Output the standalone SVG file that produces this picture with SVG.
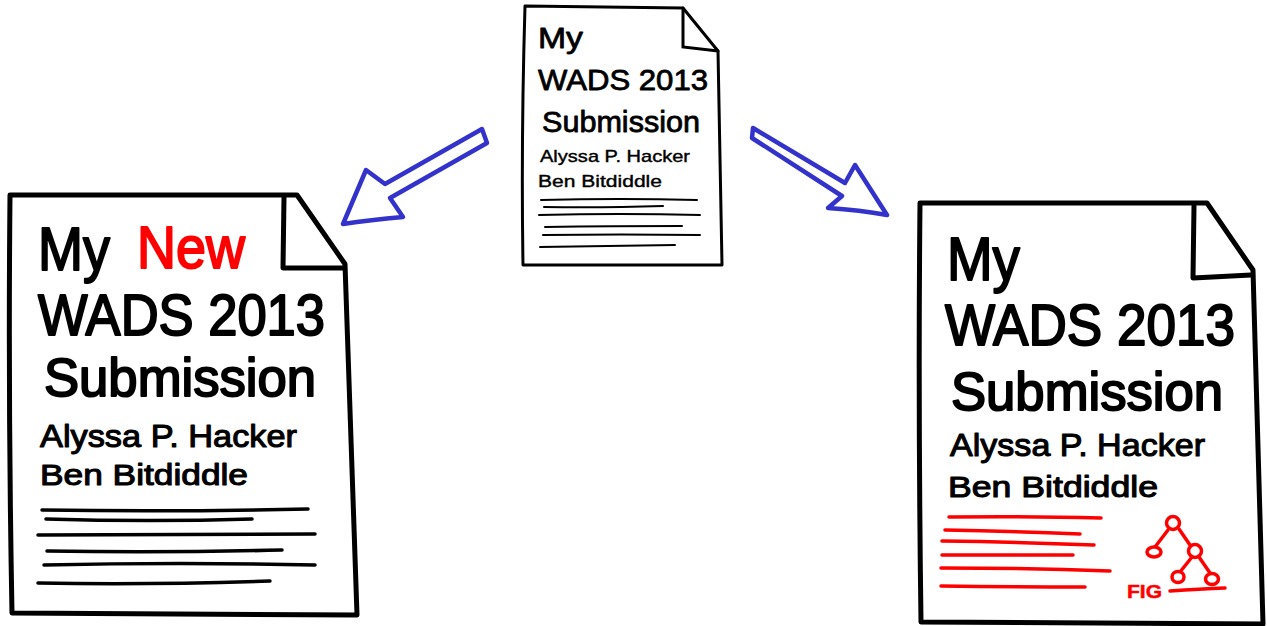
<svg xmlns="http://www.w3.org/2000/svg" width="1267" height="626" viewBox="0 0 1267 626">
<style>
.page{fill:#fff;stroke:#000;stroke-linejoin:round;stroke-linecap:round}
.big{stroke-width:5}
.small{stroke-width:3}
.ln{fill:none;stroke:#000;stroke-linecap:round}
.red{stroke:#f00}
.t{font-family:"Liberation Sans","DejaVu Sans",sans-serif;fill:#000;stroke:#000;stroke-linejoin:round}
.tb{stroke-width:2}
.tm{stroke-width:1.1}
.ts{stroke-width:0.8}
.tr{fill:#f00;stroke:#f00}
.arrow{fill:none;stroke:#3333cc;stroke-width:4.5;stroke-linejoin:round;stroke-linecap:round}
</style>
<rect width="1267" height="626" fill="#fff"/>

<g id="doc-original">
<path class="page small" d="M525,6 L683,8 L718,51 L722,265 L523,265 Q521,140 525,6 Z"/>
<path class="ln" stroke-width="3" d="M683,8 L683,47 L718,51"/>
<text class="t ts" x="538" y="48" font-size="30" textLength="45" lengthAdjust="spacingAndGlyphs">My</text>
<text class="t ts" x="538" y="90" font-size="29" textLength="170" lengthAdjust="spacingAndGlyphs">WADS 2013</text>
<text class="t ts" x="542" y="132" font-size="29" textLength="158" lengthAdjust="spacingAndGlyphs">Submission</text>
<text class="t" stroke-width="0.4" x="540" y="162" font-size="17" textLength="150" lengthAdjust="spacingAndGlyphs">Alyssa P. Hacker</text>
<text class="t" stroke-width="0.4" x="538" y="187" font-size="17" textLength="124" lengthAdjust="spacingAndGlyphs">Ben Bitdiddle</text>
<g class="ln" stroke-width="2">
<path d="M541,200 Q620,198 697,200"/>
<path d="M544,207 Q600,208 663,206"/>
<path d="M539,215 Q620,213 700,215"/>
<path d="M545,227 Q610,226 682,226"/>
<path d="M543,235 Q620,234 700,235"/>
<path d="M540,247 Q600,246 675,245"/>
</g>
</g>

<g id="doc-new">
<path class="page big" d="M10,195 L297,195 L345,264 L357,615 L12,613 Q8,400 10,195 Z"/>
<path class="ln" stroke-width="5" stroke-linejoin="round" d="M284,197 L283,268 L343,268"/>
<text class="t tb" x="38" y="270" font-size="62" textLength="72" lengthAdjust="spacingAndGlyphs">My</text>
<text class="t tb tr" x="137" y="268" font-size="60" textLength="108" lengthAdjust="spacingAndGlyphs">New</text>
<text class="t tb" x="38" y="335" font-size="58" textLength="287" lengthAdjust="spacingAndGlyphs">WADS 2013</text>
<text class="t tb" x="44" y="396" font-size="54" textLength="272" lengthAdjust="spacingAndGlyphs">Submission</text>
<text class="t tm" x="40" y="447" font-size="32" textLength="257" lengthAdjust="spacingAndGlyphs">Alyssa P. Hacker</text>
<text class="t tm" x="40" y="485" font-size="30" textLength="208" lengthAdjust="spacingAndGlyphs">Ben Bitdiddle</text>
<g class="ln" stroke-width="3.5">
<path d="M42,510 Q170,512 308,509"/>
<path d="M46,519 Q150,522 252,519"/>
<path d="M38,535 Q180,534 315,534"/>
<path d="M47,551 Q160,553 282,550"/>
<path d="M44,565 Q180,562 315,565"/>
<path d="M38,583 Q150,585 270,581"/>
</g>
</g>

<g id="doc-figure">
<path class="page big" d="M920,203 L1207,203 L1253,270 L1263,624 L921,622 Q918,400 920,203 Z"/>
<path class="ln" stroke-width="5" stroke-linejoin="round" d="M1194,206 L1193,278 L1251,275"/>
<text class="t tb" x="947" y="280" font-size="62" textLength="73" lengthAdjust="spacingAndGlyphs">My</text>
<text class="t tb" x="945" y="345" font-size="58" textLength="290" lengthAdjust="spacingAndGlyphs">WADS 2013</text>
<text class="t tb" x="951" y="410" font-size="54" textLength="272" lengthAdjust="spacingAndGlyphs">Submission</text>
<text class="t tm" x="950" y="456" font-size="32" textLength="255" lengthAdjust="spacingAndGlyphs">Alyssa P. Hacker</text>
<text class="t tm" x="948" y="497" font-size="30" textLength="210" lengthAdjust="spacingAndGlyphs">Ben Bitdiddle</text>
<g class="ln red" stroke-width="3.5">
<path d="M949,517 Q1030,516 1101,518"/>
<path d="M945,530 Q1010,531 1080,534"/>
<path d="M942,541 Q1020,542 1094,545"/>
<path d="M942,555 Q1010,555 1073,555"/>
<path d="M941,568 Q1030,568 1110,571"/>
<path d="M941,586 Q1010,587 1085,587"/>
</g>
<g class="ln red" stroke-width="3.5">
<path d="M1168,530 L1155,547"/>
<path d="M1179,529 L1190,545"/>
<path d="M1192,557 L1180,572"/>
<path d="M1199,557 L1210,573"/>
<circle cx="1173" cy="523" r="6.5" fill="#fff"/>
<ellipse cx="1154" cy="552" rx="7" ry="5" fill="#fff"/>
<circle cx="1195" cy="551" r="6.5" fill="#fff"/>
<ellipse cx="1178" cy="577" rx="6" ry="5.5" fill="#fff"/>
<ellipse cx="1212" cy="579" rx="6.5" ry="5.5" fill="#fff"/>
<path d="M1170,591 Q1200,589 1225,588"/>
</g>
<text class="t tr" x="1127" y="598" font-size="19" font-weight="bold" stroke-width="0.5" textLength="35" lengthAdjust="spacingAndGlyphs">FIG</text>
</g>

<g id="connectors">
<path class="arrow" d="M343,224 L366,170 L385,184 L482,129 L487,143 L390,198 L403,217 Q370,220 343,224 Z"/>
<path class="arrow" d="M753,128 L845,183 L855,165 L887,215 Q860,210 828,208 L842,196 L752,138 Z"/>
</g>
</svg>
